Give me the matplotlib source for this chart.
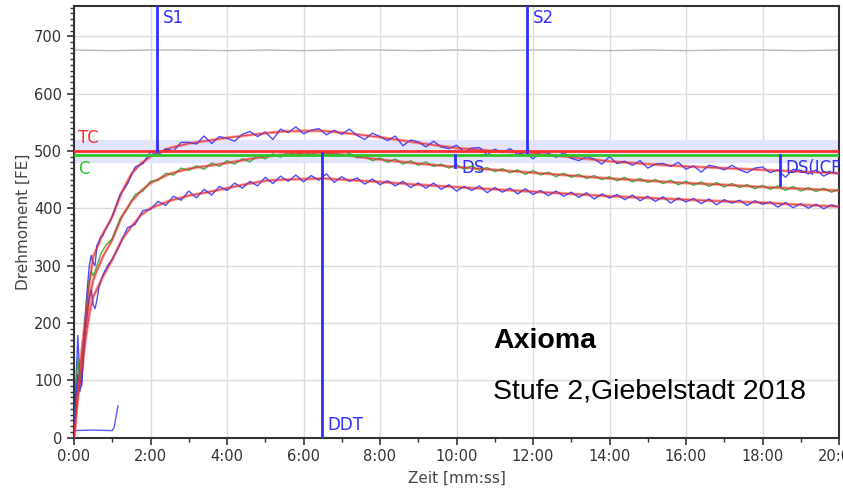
import numpy as np
import matplotlib.pyplot as plt
from matplotlib.ticker import MultipleLocator, FuncFormatter

# ---- data (time in minutes, torque in FE) ----
t_smooth = [0, 0.1, 0.2, 0.3, 0.4, 0.5, 0.75, 1.0, 1.25, 1.5, 1.75, 2.0, 2.5, 3.0,
            3.5, 4.0, 4.5, 5.0, 5.5, 6.0, 6.5, 7.0, 7.5, 8.0, 9, 10, 11, 12, 13,
            14, 15, 16, 17, 18, 19, 20]
upper_smooth = [0, 90, 150, 210, 270, 315, 355, 385, 428, 460, 478, 490, 505, 513,
                518, 523, 527, 531, 534, 535, 535, 532, 528, 524, 514, 505, 500, 496,
                489, 482, 477, 473, 470, 467, 464, 461]
mid_smooth = [0, 80, 130, 190, 240, 275, 315, 345, 385, 412, 430, 444, 460, 469,
              474, 479, 485, 490, 494, 496, 497, 494, 489, 485, 478, 472, 467, 462,
              457, 452, 448, 444, 441, 437, 434, 431]
lower_smooth = [0, 70, 110, 170, 215, 245, 280, 310, 345, 368, 388, 400, 413, 422,
                428, 435, 442, 448, 450, 451, 452, 450, 448, 446, 441, 437, 433, 429,
                425, 421, 418, 415, 412, 410, 406, 403]

# raw traces: 0..1 min every 3 s, then 1.2..20 min every 12 s
upper_early = [0, 95, 178, 105, 90, 160, 215, 262, 300, 318, 305, 300, 335, 342,
               350, 352, 360, 366, 372, 378, 386]
mid_early = [0, 80, 140, 100, 120, 170, 210, 245, 270, 290, 282, 290, 300, 310,
             320, 326, 332, 337, 340, 343, 347]
lower_early = [0, 70, 110, 80, 95, 150, 190, 220, 245, 258, 232, 225, 240, 262,
               272, 282, 290, 296, 302, 306, 311]

upper_raw = [423, 443, 472, 478, 498,  493, 504, 500, 515, 515,
             512, 526, 513, 525, 522,  517, 529, 534, 525, 533,
             520, 538, 532, 542, 530,  536, 539, 528, 536, 529,
             538, 527, 520, 531, 525,  518, 526, 509, 519, 516,
             507, 517, 507, 504, 510,  498, 505, 506, 493, 503,
             497, 504, 494, 498, 486,  499, 496, 489, 497, 487,
             483, 490, 486, 477, 490,  478, 482, 475, 483, 470,
             477, 478, 473, 480, 468,  474, 463, 475, 472, 467,
             475, 467, 462, 470, 472,  462, 467, 454, 468, 466,
             460, 467, 456, 463, 460]
mid_raw = [381, 400, 424, 430, 447,  449, 461, 458, 470, 466,
           474, 468, 479, 473, 483,  477, 486, 481, 492, 486,
           495, 489, 498, 492, 500,  493, 500, 494, 499, 491,
           496, 488, 491, 483, 488,  480, 486, 477, 483, 475,
           481, 473, 477, 470, 476,  468, 474, 466, 471, 464,
           469, 462, 467, 459, 466,  458, 463, 455, 461, 454,
           459, 452, 457, 450, 455,  448, 454, 446, 452, 445,
           450, 443, 449, 441, 447,  440, 446, 438, 445, 437,
           443, 436, 441, 434, 440,  433, 439, 431, 438, 430,
           436, 429, 435, 428, 433]
lower_raw = [337, 366, 372, 396, 398,  412, 405, 421, 414, 430,
             418, 433, 423, 438, 431,  444, 435, 447, 439, 454,
             443, 456, 447, 458, 446,  457, 449, 460, 445, 455,
             447, 453, 442, 451, 441,  448, 439, 447, 436, 444,
             435, 444, 433, 441, 430,  438, 431, 439, 427, 436,
             428, 435, 425, 434, 424,  431, 422, 430, 421, 428,
             419, 427, 416, 425, 418,  424, 415, 423, 413, 421,
             412, 420, 409, 418, 411,  417, 408, 416, 406, 415,
             409, 414, 405, 413, 407,  411, 402, 410, 401, 408,
             400, 407, 399, 406, 402]

t_gray = list(range(0, 21))
gray_vals = [676, 675, 676, 676, 675, 676, 675, 676, 676, 675, 676,
             675, 676, 676, 675, 676, 675, 676, 676, 675, 676]

t_low = [0, 0.5, 1.0, 1.05, 1.15]
low_vals = [12, 13, 12, 18, 55]

tc_level, c_level = 500, 493
band_lo, band_hi = 481, 519
s1, s2, ddt = 2.17, 11.85, 6.48
ds_t, dsicp_t = 9.97, 18.46
ds_bottom, dsicp_bottom = 472, 440

t_early = np.round(np.arange(0, 1.001, 0.05), 2)
t_late = np.round(np.arange(1.2, 20.001, 0.2), 1)
t_raw = np.concatenate([t_early, t_late])

blue = '#2f2fff'
fig = plt.figure(figsize=(8.43, 4.9), dpi=100)
ax = fig.add_axes([74 / 843, 52.5 / 490, 765 / 843, 431 / 490])

ax.axhspan(band_lo, band_hi, color='#e2e5fb', zorder=1)
ax.plot(t_gray, gray_vals, color='#b8b8b8', lw=1, zorder=2)

for sm in [upper_smooth, mid_smooth, lower_smooth]:
    ax.plot(t_smooth, sm, color='#ff6060', lw=2.2, alpha=0.6, zorder=3)
for early, raw, col in [(upper_early, upper_raw, blue),
                        (mid_early, mid_raw, '#2ca02c'),
                        (lower_early, lower_raw, blue)]:
    ax.plot(t_raw, early + raw, color=col, lw=1.0, alpha=0.85, zorder=4)
for sm in [upper_smooth, mid_smooth, lower_smooth]:
    ax.plot(t_smooth, sm, color='#e03030', lw=0.8, alpha=0.8, zorder=4)

ax.plot(t_low, low_vals, color='#5a5aff', lw=1, zorder=3)

ax.axhline(tc_level, color='#ff2e2e', lw=2, zorder=5)
ax.axhline(c_level, color='#2ec42e', lw=2, zorder=5)
ax.text(0.1, 506, 'TC', color='#ff2e2e', fontsize=12, va='bottom')
ax.text(0.1, 484, 'C', color='#2ec42e', fontsize=12, va='top')

ax.plot([s1, s1], [500, 760], color=blue, lw=2, zorder=6)
ax.plot([s2, s2], [498, 760], color=blue, lw=2, zorder=6)
ax.plot([ddt, ddt], [0, 497], color=blue, lw=2, zorder=6)
ax.plot([ds_t, ds_t], [c_level, ds_bottom], color=blue, lw=2, zorder=6)
ax.plot([dsicp_t, dsicp_t], [c_level, dsicp_bottom], color=blue, lw=2, zorder=6)
ax.text(s1 + 0.15, 732, 'S1', color=blue, fontsize=12, va='center')
ax.text(s2 + 0.15, 732, 'S2', color=blue, fontsize=12, va='center')
ax.text(ddt + 0.15, 22, 'DDT', color=blue, fontsize=12, va='center')
ax.text(ds_t + 0.15, 470, 'DS', color=blue, fontsize=12, va='center')
ax.text(dsicp_t + 0.15, 470, 'DS(ICP)', color=blue, fontsize=12, va='center',
        clip_on=True)

ax.text(10.95, 169, 'Axioma', fontsize=20.5, fontweight='bold',
        family='Liberation Sans', va='center')
ax.text(10.95, 81, 'Stufe 2,Giebelstadt 2018', fontsize=20.5,
        family='Liberation Sans', va='center')

ax.set_xlim(0, 20)
ax.set_ylim(0, 752)
ax.xaxis.set_major_locator(MultipleLocator(2))
ax.xaxis.set_minor_locator(MultipleLocator(1))
ax.yaxis.set_major_locator(MultipleLocator(100))
ax.yaxis.set_minor_locator(MultipleLocator(10))
ax.xaxis.set_major_formatter(FuncFormatter(lambda v, p: f"{int(v)}:00"))
ax.grid(True, which='major', color='#dcdcdc', lw=1)
ax.set_axisbelow(True)
ax.tick_params(which='major', length=5, width=1.2, colors='#333333',
               labelsize=10.5, labelcolor='#333333')
ax.tick_params(which='minor', length=3, width=1, colors='#333333')
for sp in ax.spines.values():
    sp.set_color('#333333')
    sp.set_linewidth(1.5)
ax.set_xlabel('Zeit [mm:ss]', fontsize=11, color='#444444', labelpad=5)
ax.set_ylabel('Drehmoment [FE]', fontsize=11, color='#444444', labelpad=2)

fig.savefig('out.png', dpi=100)
